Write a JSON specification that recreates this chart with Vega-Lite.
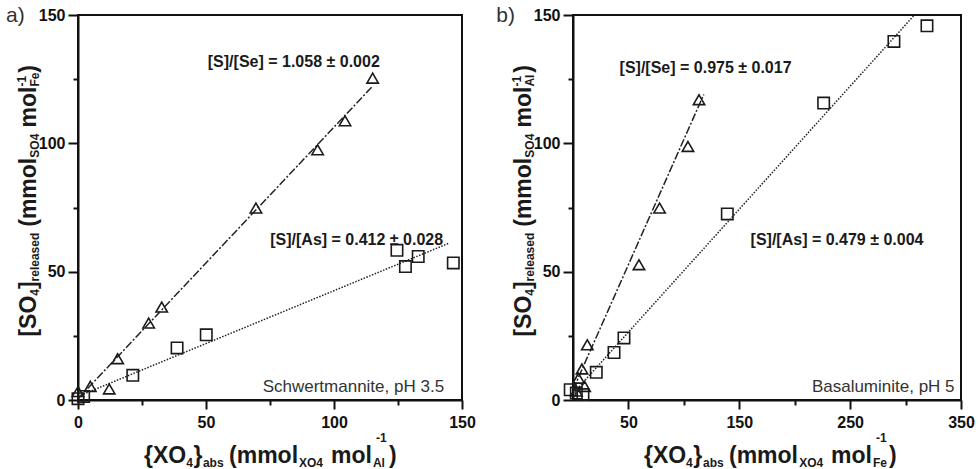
{
  "$schema": "https://vega.github.io/schema/vega-lite/v6.json",
  "padding": {"left": 5, "top": 3, "right": 5, "bottom": 0},
  "bounds": "flush",
  "spacing": 111,
  "config": {
    "font": "Liberation Sans",
    "view": {"stroke": "#111", "strokeWidth": 2},
    "axis": {
      "domainColor": "#111", "domainWidth": 2,
      "tickColor": "#111", "tickWidth": 2,
      "labelFont": "Liberation Sans", "labelFontWeight": "bold", "labelFontSize": 16, "labelColor": "#111",
      "grid": false, "labelOverlap": false, "labelFlush": false
    },
    "text": {"font": "Liberation Sans", "color": "#1a1a1a", "baseline": "alphabetic"}
  },
  "datasets": {
    "points": [
      {"panel": "a", "series": "Se", "x": 0, "y": 3.3},
      {"panel": "a", "series": "Se", "x": 4.8, "y": 5.3},
      {"panel": "a", "series": "Se", "x": 12.2, "y": 4.3},
      {"panel": "a", "series": "Se", "x": 15.5, "y": 16.1},
      {"panel": "a", "series": "Se", "x": 27.6, "y": 30.0},
      {"panel": "a", "series": "Se", "x": 32.7, "y": 36.2},
      {"panel": "a", "series": "Se", "x": 69.5, "y": 74.8},
      {"panel": "a", "series": "Se", "x": 93.6, "y": 97.5},
      {"panel": "a", "series": "Se", "x": 104.3, "y": 108.8},
      {"panel": "a", "series": "Se", "x": 115.1, "y": 125.4},
      {"panel": "a", "series": "As", "x": 0, "y": 0.5},
      {"panel": "a", "series": "As", "x": 2.2, "y": 1.4},
      {"panel": "a", "series": "As", "x": 21.4, "y": 9.6},
      {"panel": "a", "series": "As", "x": 38.7, "y": 20.3},
      {"panel": "a", "series": "As", "x": 50.1, "y": 25.4},
      {"panel": "a", "series": "As", "x": 124.6, "y": 58.3},
      {"panel": "a", "series": "As", "x": 127.9, "y": 52.0},
      {"panel": "a", "series": "As", "x": 132.9, "y": 55.9},
      {"panel": "a", "series": "As", "x": 146.6, "y": 53.4},
      {"panel": "b", "series": "Se", "x": 113.7, "y": 117.0},
      {"panel": "b", "series": "Se", "x": 103.7, "y": 98.8},
      {"panel": "b", "series": "Se", "x": 78.1, "y": 74.8},
      {"panel": "b", "series": "Se", "x": 59.5, "y": 52.7},
      {"panel": "b", "series": "Se", "x": 12.9, "y": 21.5},
      {"panel": "b", "series": "Se", "x": 8.1, "y": 12.1},
      {"panel": "b", "series": "Se", "x": 5.0, "y": 8.5},
      {"panel": "b", "series": "Se", "x": 10.5, "y": 5.3},
      {"panel": "b", "series": "Se", "x": 3.0, "y": 3.5},
      {"panel": "b", "series": "As", "x": 319.3, "y": 145.8},
      {"panel": "b", "series": "As", "x": 289.5, "y": 139.7},
      {"panel": "b", "series": "As", "x": 226.1, "y": 115.7},
      {"panel": "b", "series": "As", "x": 139.2, "y": 72.5},
      {"panel": "b", "series": "As", "x": 46.0, "y": 24.2},
      {"panel": "b", "series": "As", "x": 37.0, "y": 18.5},
      {"panel": "b", "series": "As", "x": 21.0, "y": 10.8},
      {"panel": "b", "series": "As", "x": -2.5, "y": 4.0},
      {"panel": "b", "series": "As", "x": 9.0, "y": 2.1},
      {"panel": "b", "series": "As", "x": 3.0, "y": 2.7}
    ],
    "fits": [
      {"panel": "a", "series": "Se", "x": 0, "y": 0.5},
      {"panel": "a", "series": "Se", "x": 115, "y": 122.17},
      {"panel": "a", "series": "As", "x": 0, "y": 1.4},
      {"panel": "a", "series": "As", "x": 145, "y": 61.14},
      {"panel": "b", "series": "Se", "x": 0, "y": 4.0},
      {"panel": "b", "series": "Se", "x": 118, "y": 119.05},
      {"panel": "b", "series": "As", "x": 0, "y": 2.5},
      {"panel": "b", "series": "As", "x": 307.9, "y": 149.98}
    ],
    "slopes": [
      {"panel": "a", "x": 50.7, "y": 129.8, "text": "[S]/[Se] = 1.058 ± 0.002"},
      {"panel": "a", "x": 75.1, "y": 60.5, "text": "[S]/[As] = 0.412 ± 0.028"},
      {"panel": "b", "x": 42.0, "y": 127.4, "text": "[S]/[Se] = 0.975 ± 0.017"},
      {"panel": "b", "x": 160.2, "y": 60.5, "text": "[S]/[As] = 0.479 ± 0.004"}
    ],
    "minerals": [
      {"panel": "a", "x": 143.0, "y": 3.1, "text": "Schwertmannite, pH 3.5"},
      {"panel": "b", "x": 344.2, "y": 3.1, "text": "Basaluminite, pH 5"}
    ],
    "tags": [
      {"panel": "a", "x": -28.1, "y": 147.4, "text": "a)"},
      {"panel": "b", "x": -69.2, "y": 147.4, "text": "b)"}
    ],
    "xtitle": [
      {"panel": "a", "role": "main", "x": 25.8, "text": "{XO"},
      {"panel": "a", "role": "sub", "x": 42.3, "text": "4"},
      {"panel": "a", "role": "main", "x": 45.1, "text": "}"},
      {"panel": "a", "role": "sub", "x": 48.8, "text": "abs"},
      {"panel": "a", "role": "main", "x": 59.0, "text": "(mmol"},
      {"panel": "a", "role": "sub", "x": 86.3, "text": "XO4"},
      {"panel": "a", "role": "main", "x": 98.8, "text": "mol"},
      {"panel": "a", "role": "sub", "x": 115.2, "text": "Al"},
      {"panel": "a", "role": "sup", "x": 116.4, "text": "-1"},
      {"panel": "a", "role": "main", "x": 121.5, "text": ")"},
      {"panel": "b", "role": "main", "x": 64.0, "text": "{XO"},
      {"panel": "b", "role": "sub", "x": 102.0, "text": "4"},
      {"panel": "b", "role": "main", "x": 108.4, "text": "}"},
      {"panel": "b", "role": "sub", "x": 117.3, "text": "abs"},
      {"panel": "b", "role": "main", "x": 140.7, "text": "(mmol"},
      {"panel": "b", "role": "sub", "x": 204.0, "text": "XO4"},
      {"panel": "b", "role": "main", "x": 232.7, "text": "mol"},
      {"panel": "b", "role": "sub", "x": 270.6, "text": "Fe"},
      {"panel": "b", "role": "sup", "x": 273.3, "text": "-1"},
      {"panel": "b", "role": "main", "x": 285.0, "text": ")"}
    ],
    "ytitle": [
      {"panel": "a", "role": "main", "y": 24.7, "text": "[SO"},
      {"panel": "a", "role": "sub", "y": 40.6, "text": "4"},
      {"panel": "a", "role": "main", "y": 43.2, "text": "]"},
      {"panel": "a", "role": "sub", "y": 46.2, "text": "released"},
      {"panel": "a", "role": "main", "y": 67.5, "text": "(mmol"},
      {"panel": "a", "role": "sub", "y": 94.4, "text": "SO4"},
      {"panel": "a", "role": "main", "y": 106.2, "text": "mol"},
      {"panel": "a", "role": "sub", "y": 122.1, "text": "Fe"},
      {"panel": "a", "role": "sup", "y": 122.1, "text": "-1"},
      {"panel": "a", "role": "main", "y": 127.5, "text": ")"},
      {"panel": "b", "role": "main", "y": 24.7, "text": "[SO"},
      {"panel": "b", "role": "sub", "y": 40.6, "text": "4"},
      {"panel": "b", "role": "main", "y": 43.2, "text": "]"},
      {"panel": "b", "role": "sub", "y": 46.2, "text": "released"},
      {"panel": "b", "role": "main", "y": 67.5, "text": "(mmol"},
      {"panel": "b", "role": "sub", "y": 94.4, "text": "SO4"},
      {"panel": "b", "role": "main", "y": 106.2, "text": "mol"},
      {"panel": "b", "role": "sub", "y": 122.1, "text": "Al"},
      {"panel": "b", "role": "sup", "y": 122.1, "text": "-1"},
      {"panel": "b", "role": "main", "y": 127.5, "text": ")"}
    ]
  },
  "hconcat": [
    {
      "width": 384,
      "height": 385,
      "layer": [
        {
          "data": {"name": "fits"},
          "transform": [{"filter": "datum.panel === 'a'"}],
          "mark": {"type": "line", "strokeWidth": 1.5, "color": "#222"},
          "encoding": {
            "x": {
              "field": "x", "type": "quantitative",
              "scale": {"domain": [0, 150], "nice": false, "zero": false},
              "axis": {
                "title": null,
                "values": [0, 25, 50, 75, 100, 125, 150],
                "labelExpr": "datum.value % 50 === 0 ? datum.label : ''",
                "tickSize": {"condition": {"test": "datum.value % 50 === 0", "value": 9}, "value": 5},
                "labelPadding": 5
              }
            },
            "y": {
              "field": "y", "type": "quantitative",
              "scale": {"domain": [0, 150], "nice": false, "zero": false},
              "axis": {
                "title": null,
                "values": [0, 25, 50, 75, 100, 125, 150],
                "labelExpr": "datum.value % 50 === 0 ? datum.label : ''",
                "tickSize": {"condition": {"test": "datum.value % 50 === 0", "value": 10}, "value": 5},
                "labelPadding": 3
              }
            },
            "detail": {"field": "series"},
            "strokeDash": {
              "field": "series", "type": "nominal",
              "scale": {"domain": ["Se", "As"], "range": [[8, 2, 2, 2], [1.5, 1.5]]},
              "legend": null
            }
          }
        },
        {
          "data": {"name": "points"},
          "transform": [{"filter": "datum.panel === 'a'"}],
          "mark": {"type": "point", "filled": false, "strokeWidth": 1.6, "color": "#1a1a1a", "opacity": 1, "size": 130},
          "encoding": {
            "x": {"field": "x", "type": "quantitative"},
            "y": {"field": "y", "type": "quantitative"},
            "shape": {
              "field": "series", "type": "nominal",
              "scale": {"domain": ["Se", "As"], "range": ["triangle-up", "square"]},
              "legend": null
            }
          }
        },
        {
          "data": {"name": "slopes"},
          "transform": [{"filter": "datum.panel === 'a'"}],
          "mark": {"type": "text", "fontWeight": "bold", "fontSize": 16, "align": "left"},
          "encoding": {
            "x": {"field": "x", "type": "quantitative"},
            "y": {"field": "y", "type": "quantitative"},
            "text": {"field": "text"}
          }
        },
        {
          "data": {"name": "minerals"},
          "transform": [{"filter": "datum.panel === 'a'"}],
          "mark": {"type": "text", "fontSize": 17, "align": "right", "color": "#333"},
          "encoding": {
            "x": {"field": "x", "type": "quantitative"},
            "y": {"field": "y", "type": "quantitative"},
            "text": {"field": "text"}
          }
        },
        {
          "data": {"name": "tags"},
          "transform": [{"filter": "datum.panel === 'a'"}],
          "mark": {"type": "text", "fontSize": 21, "align": "left", "color": "#333"},
          "encoding": {
            "x": {"field": "x", "type": "quantitative"},
            "y": {"field": "y", "type": "quantitative"},
            "text": {"field": "text"}
          }
        },
        {
          "data": {"name": "xtitle"},
          "transform": [{"filter": "datum.panel === 'a' && datum.role === 'main'"}],
          "mark": {"type": "text", "fontWeight": "bold", "fontSize": 23, "align": "left"},
          "encoding": {
            "x": {"field": "x", "type": "quantitative"},
            "y": {"datum": -24.6, "type": "quantitative"},
            "text": {"field": "text"}
          }
        },
        {
          "data": {"name": "xtitle"},
          "transform": [{"filter": "datum.panel === 'a' && datum.role === 'sub'"}],
          "mark": {"type": "text", "fontWeight": "bold", "fontSize": 12, "align": "left"},
          "encoding": {
            "x": {"field": "x", "type": "quantitative"},
            "y": {"datum": -26.0, "type": "quantitative"},
            "text": {"field": "text"}
          }
        },
        {
          "data": {"name": "xtitle"},
          "transform": [{"filter": "datum.panel === 'a' && datum.role === 'sup'"}],
          "mark": {"type": "text", "fontWeight": "bold", "fontSize": 12, "align": "left"},
          "encoding": {
            "x": {"field": "x", "type": "quantitative"},
            "y": {"datum": -16.5, "type": "quantitative"},
            "text": {"field": "text"}
          }
        },
        {
          "data": {"name": "ytitle"},
          "transform": [{"filter": "datum.panel === 'a' && datum.role === 'main'"}],
          "mark": {"type": "text", "fontWeight": "bold", "fontSize": 23, "align": "left", "angle": 270},
          "encoding": {
            "x": {"datum": -16.6, "type": "quantitative"},
            "y": {"field": "y", "type": "quantitative"},
            "text": {"field": "text"}
          }
        },
        {
          "data": {"name": "ytitle"},
          "transform": [{"filter": "datum.panel === 'a' && datum.role === 'sub'"}],
          "mark": {"type": "text", "fontWeight": "bold", "fontSize": 12, "align": "left", "angle": 270},
          "encoding": {
            "x": {"datum": -15.4, "type": "quantitative"},
            "y": {"field": "y", "type": "quantitative"},
            "text": {"field": "text"}
          }
        },
        {
          "data": {"name": "ytitle"},
          "transform": [{"filter": "datum.panel === 'a' && datum.role === 'sup'"}],
          "mark": {"type": "text", "fontWeight": "bold", "fontSize": 12, "align": "left", "angle": 270},
          "encoding": {
            "x": {"datum": -20.3, "type": "quantitative"},
            "y": {"field": "y", "type": "quantitative"},
            "text": {"field": "text"}
          }
        }
      ]
    },
    {
      "width": 388,
      "height": 385,
      "layer": [
        {
          "data": {"name": "fits"},
          "transform": [{"filter": "datum.panel === 'b'"}],
          "mark": {"type": "line", "strokeWidth": 1.5, "color": "#222"},
          "encoding": {
            "x": {
              "field": "x", "type": "quantitative",
              "scale": {"domain": [0, 350], "nice": false, "zero": false},
              "axis": {
                "title": null,
                "values": [50, 100, 150, 200, 250, 300, 350],
                "labelExpr": "(datum.value - 50) % 100 === 0 ? datum.label : ''",
                "tickSize": {"condition": {"test": "(datum.value - 50) % 100 === 0", "value": 9}, "value": 5},
                "labelPadding": 5
              }
            },
            "y": {
              "field": "y", "type": "quantitative",
              "scale": {"domain": [0, 150], "nice": false, "zero": false},
              "axis": {
                "title": null,
                "values": [0, 25, 50, 75, 100, 125, 150],
                "labelExpr": "datum.value % 50 === 0 ? datum.label : ''",
                "tickSize": {"condition": {"test": "datum.value % 50 === 0", "value": 10}, "value": 5},
                "labelPadding": 3
              }
            },
            "detail": {"field": "series"},
            "strokeDash": {
              "field": "series", "type": "nominal",
              "scale": {"domain": ["Se", "As"], "range": [[8, 2, 2, 2], [1.5, 1.5]]},
              "legend": null
            }
          }
        },
        {
          "data": {"name": "points"},
          "transform": [{"filter": "datum.panel === 'b'"}],
          "mark": {"type": "point", "filled": false, "strokeWidth": 1.6, "color": "#1a1a1a", "opacity": 1, "size": 130},
          "encoding": {
            "x": {"field": "x", "type": "quantitative"},
            "y": {"field": "y", "type": "quantitative"},
            "shape": {
              "field": "series", "type": "nominal",
              "scale": {"domain": ["Se", "As"], "range": ["triangle-up", "square"]},
              "legend": null
            }
          }
        },
        {
          "data": {"name": "slopes"},
          "transform": [{"filter": "datum.panel === 'b'"}],
          "mark": {"type": "text", "fontWeight": "bold", "fontSize": 16, "align": "left"},
          "encoding": {
            "x": {"field": "x", "type": "quantitative"},
            "y": {"field": "y", "type": "quantitative"},
            "text": {"field": "text"}
          }
        },
        {
          "data": {"name": "minerals"},
          "transform": [{"filter": "datum.panel === 'b'"}],
          "mark": {"type": "text", "fontSize": 17, "align": "right", "color": "#333"},
          "encoding": {
            "x": {"field": "x", "type": "quantitative"},
            "y": {"field": "y", "type": "quantitative"},
            "text": {"field": "text"}
          }
        },
        {
          "data": {"name": "tags"},
          "transform": [{"filter": "datum.panel === 'b'"}],
          "mark": {"type": "text", "fontSize": 21, "align": "left", "color": "#333"},
          "encoding": {
            "x": {"field": "x", "type": "quantitative"},
            "y": {"field": "y", "type": "quantitative"},
            "text": {"field": "text"}
          }
        },
        {
          "data": {"name": "xtitle"},
          "transform": [{"filter": "datum.panel === 'b' && datum.role === 'main'"}],
          "mark": {"type": "text", "fontWeight": "bold", "fontSize": 23, "align": "left"},
          "encoding": {
            "x": {"field": "x", "type": "quantitative"},
            "y": {"datum": -24.6, "type": "quantitative"},
            "text": {"field": "text"}
          }
        },
        {
          "data": {"name": "xtitle"},
          "transform": [{"filter": "datum.panel === 'b' && datum.role === 'sub'"}],
          "mark": {"type": "text", "fontWeight": "bold", "fontSize": 12, "align": "left"},
          "encoding": {
            "x": {"field": "x", "type": "quantitative"},
            "y": {"datum": -26.0, "type": "quantitative"},
            "text": {"field": "text"}
          }
        },
        {
          "data": {"name": "xtitle"},
          "transform": [{"filter": "datum.panel === 'b' && datum.role === 'sup'"}],
          "mark": {"type": "text", "fontWeight": "bold", "fontSize": 12, "align": "left"},
          "encoding": {
            "x": {"field": "x", "type": "quantitative"},
            "y": {"datum": -16.5, "type": "quantitative"},
            "text": {"field": "text"}
          }
        },
        {
          "data": {"name": "ytitle"},
          "transform": [{"filter": "datum.panel === 'b' && datum.role === 'main'"}],
          "mark": {"type": "text", "fontWeight": "bold", "fontSize": 23, "align": "left", "angle": 270},
          "encoding": {
            "x": {"datum": -38.1, "type": "quantitative"},
            "y": {"field": "y", "type": "quantitative"},
            "text": {"field": "text"}
          }
        },
        {
          "data": {"name": "ytitle"},
          "transform": [{"filter": "datum.panel === 'b' && datum.role === 'sub'"}],
          "mark": {"type": "text", "fontWeight": "bold", "fontSize": 12, "align": "left", "angle": 270},
          "encoding": {
            "x": {"datum": -35.4, "type": "quantitative"},
            "y": {"field": "y", "type": "quantitative"},
            "text": {"field": "text"}
          }
        },
        {
          "data": {"name": "ytitle"},
          "transform": [{"filter": "datum.panel === 'b' && datum.role === 'sup'"}],
          "mark": {"type": "text", "fontWeight": "bold", "fontSize": 12, "align": "left", "angle": 270},
          "encoding": {
            "x": {"datum": -46.6, "type": "quantitative"},
            "y": {"field": "y", "type": "quantitative"},
            "text": {"field": "text"}
          }
        }
      ]
    }
  ]
}
